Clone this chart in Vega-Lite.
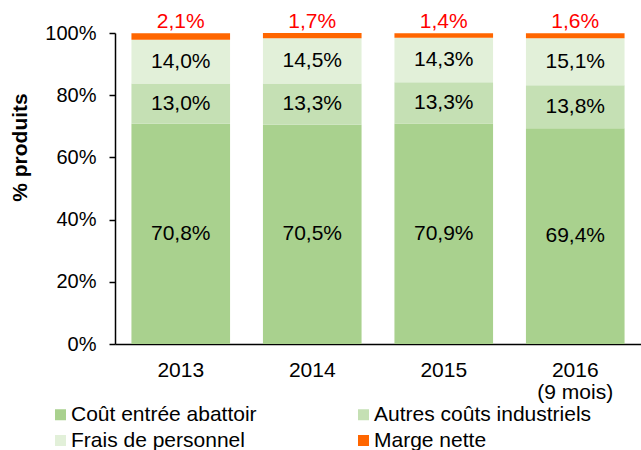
{
  "$schema": "https://vega.github.io/schema/vega-lite/v6.json",
  "width": 526,
  "height": 311,
  "autosize": "none",
  "padding": {"left": 115, "top": 33, "right": 0, "bottom": 106},
  "background": "white",
  "config": {"view": {"stroke": null}, "font": "Liberation Sans"},
  "data": {
    "values": [
      {"year": "2013", "category": "Coût entrée abattoir", "order": 1, "value": 70.8},
      {"year": "2013", "category": "Autres coûts industriels", "order": 2, "value": 13.0},
      {"year": "2013", "category": "Frais de personnel", "order": 3, "value": 14.0},
      {"year": "2013", "category": "Marge nette", "order": 4, "value": 2.1},
      {"year": "2014", "category": "Coût entrée abattoir", "order": 1, "value": 70.5},
      {"year": "2014", "category": "Autres coûts industriels", "order": 2, "value": 13.3},
      {"year": "2014", "category": "Frais de personnel", "order": 3, "value": 14.5},
      {"year": "2014", "category": "Marge nette", "order": 4, "value": 1.7},
      {"year": "2015", "category": "Coût entrée abattoir", "order": 1, "value": 70.9},
      {"year": "2015", "category": "Autres coûts industriels", "order": 2, "value": 13.3},
      {"year": "2015", "category": "Frais de personnel", "order": 3, "value": 14.3},
      {"year": "2015", "category": "Marge nette", "order": 4, "value": 1.4},
      {"year": "2016", "category": "Coût entrée abattoir", "order": 1, "value": 69.4},
      {"year": "2016", "category": "Autres coûts industriels", "order": 2, "value": 13.8},
      {"year": "2016", "category": "Frais de personnel", "order": 3, "value": 15.1},
      {"year": "2016", "category": "Marge nette", "order": 4, "value": 1.6}
    ]
  },
  "transform": [
    {"stack": "value", "groupby": ["year"], "sort": [{"field": "order", "order": "ascending"}], "as": ["y0", "y1"]},
    {"calculate": "(datum.y0 + datum.y1) / 2", "as": "ymid"},
    {"calculate": "replace(format(datum.value, '.1f'), '.', ',') + '%'", "as": "label"}
  ],
  "layer": [
    {
      "mark": {"type": "bar"},
      "encoding": {
        "x": {
          "field": "year", "type": "nominal", "title": null,
          "scale": {"paddingInner": 0.25, "paddingOuter": 0.125},
          "axis": {
            "labelAngle": 0, "ticks": false, "labelPadding": 15, "labelFontSize": 21,
            "labelColor": "black", "domainColor": "black", "domainWidth": 1.5,
            "labelBaseline": "top", "labelLineHeight": 22,
            "labelExpr": "datum.value == '2016' ? ['2016', '(9 mois)'] : datum.value"
          }
        },
        "y": {
          "field": "y0", "type": "quantitative",
          "scale": {"domain": [0, 100]},
          "axis": {
            "values": [0, 20, 40, 60, 80, 100], "grid": false,
            "labelExpr": "datum.value + '%'", "labelFontSize": 20, "labelColor": "black",
            "labelPadding": 13, "tickSize": 6, "tickColor": "black", "tickWidth": 1.5,
            "domainColor": "black", "domainWidth": 1.5,
            "title": "% produits", "titleFontSize": 21, "titleFontWeight": "bold", "titleColor": "black",
            "titleX": -95, "titleY": 114, "titleAngle": -90, "titleAlign": "center", "titleBaseline": "middle"
          }
        },
        "y2": {"field": "y1"},
        "color": {
          "field": "category", "type": "nominal",
          "scale": {
            "domain": ["Coût entrée abattoir", "Autres coûts industriels", "Frais de personnel", "Marge nette"],
            "range": ["#a9d18e", "#c5e0b4", "#e2f0d9", "#ff6600"]
          },
          "legend": {
            "title": null, "orient": "none", "legendX": -65, "legendY": 371,
            "direction": "horizontal",
            "columns": 2, "columnPadding": 96, "rowPadding": 4, "padding": 0,
            "symbolType": "square", "symbolSize": 121, "symbolStrokeWidth": 0,
            "labelFontSize": 21, "labelColor": "black", "labelOffset": 0, "labelLimit": 400
          }
        }
      }
    },
    {
      "transform": [{"filter": "datum.category != 'Marge nette'"}],
      "mark": {"type": "text", "fontSize": 21, "color": "black"},
      "encoding": {
        "x": {"field": "year", "type": "nominal"},
        "y": {"field": "ymid", "type": "quantitative"},
        "text": {"field": "label"}
      }
    },
    {
      "transform": [{"filter": "datum.category == 'Marge nette'"}],
      "mark": {"type": "text", "fontSize": 21, "color": "#ff0000", "baseline": "alphabetic", "dy": -5},
      "encoding": {
        "x": {"field": "year", "type": "nominal"},
        "y": {"field": "y1", "type": "quantitative"},
        "text": {"field": "label"}
      }
    }
  ]
}
